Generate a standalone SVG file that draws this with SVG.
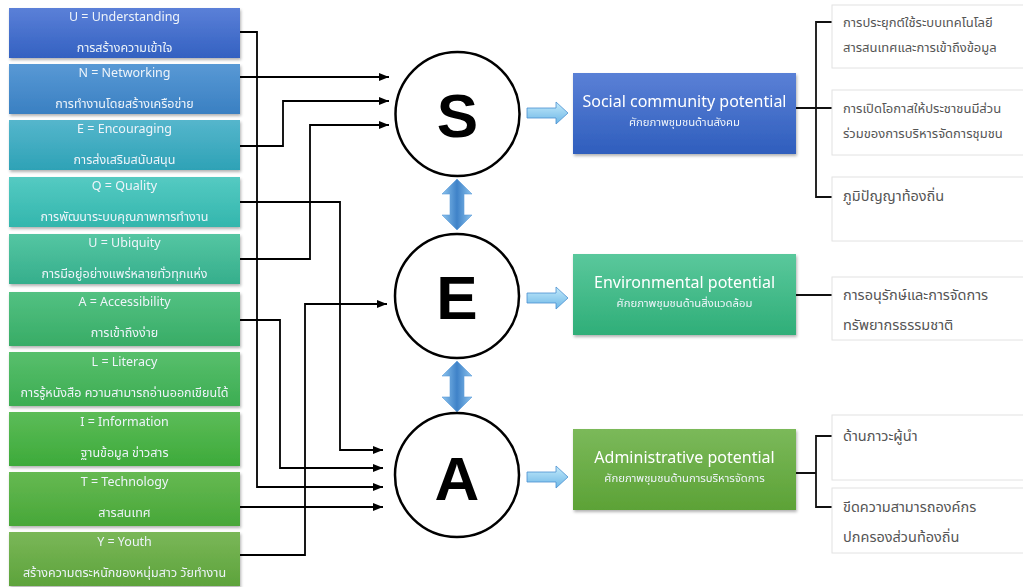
<svg xmlns="http://www.w3.org/2000/svg" width="1023" height="587" viewBox="0 0 1023 587">
<defs>
<style>
.lbl{font-family:"Noto Sans","Noto Sans Thai","Liberation Sans",sans-serif;font-size:12.5px;fill:#eef4fa;text-anchor:middle}
.big{font-family:"Liberation Sans","DejaVu Sans",sans-serif;font-weight:bold;font-size:62px;fill:#000;text-anchor:middle}
.ttl{font-family:"Noto Sans","Liberation Sans",sans-serif;font-size:16px;fill:#fff;text-anchor:middle}
.sub{font-family:"Noto Sans","Noto Sans Thai","Liberation Sans",sans-serif;font-size:11.3px;fill:#eef4fa;text-anchor:middle}
.rt{font-family:"Noto Sans","Noto Sans Thai","Liberation Sans",sans-serif;font-size:13px;fill:#555}
.rt2{font-family:"Noto Sans","Noto Sans Thai","Liberation Sans",sans-serif;font-size:14.5px;fill:#555}
.circ{fill:#fff;stroke:#000;stroke-width:2.5}
.con{fill:none;stroke:#000;stroke-width:1.8}
.tree{fill:none;stroke:#111;stroke-width:1.8}
.rbox{fill:#fff;stroke:#e2e2e2;stroke-width:1}
.barr{fill:url(#gH);stroke:#4a90d0;stroke-width:0.8}
.varr{fill:url(#gV);stroke:#5a9ad8;stroke-width:0.6}
</style>
<marker id="ah" markerUnits="userSpaceOnUse" markerWidth="10" markerHeight="8" refX="10" refY="4" orient="auto">
<path d="M0,0 L10,4 L0,8 Z" fill="#000"/>
</marker>
<filter id="sh" x="-5%" y="-10%" width="110%" height="130%">
<feDropShadow dx="1" dy="2" stdDeviation="1.5" flood-color="#000" flood-opacity="0.3"/>
</filter>
<linearGradient id="gH" x1="0" y1="0" x2="0" y2="1"><stop offset="0" stop-color="#c4ebfb"/><stop offset="1" stop-color="#6cb6e6"/></linearGradient>
<linearGradient id="gV" x1="0" y1="0" x2="1" y2="0"><stop offset="0" stop-color="#8cc4ee"/><stop offset="0.5" stop-color="#3f82c8"/><stop offset="1" stop-color="#8cc4ee"/></linearGradient>
<linearGradient id="g1" x1="0" y1="0" x2="0" y2="1"><stop offset="0" stop-color="#5b80d8"/><stop offset="1" stop-color="#3361c1"/></linearGradient>
<linearGradient id="g2" x1="0" y1="0" x2="0" y2="1"><stop offset="0" stop-color="#5899d5"/><stop offset="1" stop-color="#3a80c2"/></linearGradient>
<linearGradient id="g3" x1="0" y1="0" x2="0" y2="1"><stop offset="0" stop-color="#55b6cc"/><stop offset="1" stop-color="#2ea2b6"/></linearGradient>
<linearGradient id="g4" x1="0" y1="0" x2="0" y2="1"><stop offset="0" stop-color="#55cac2"/><stop offset="1" stop-color="#33b6ad"/></linearGradient>
<linearGradient id="g5" x1="0" y1="0" x2="0" y2="1"><stop offset="0" stop-color="#55c6a2"/><stop offset="1" stop-color="#35ae8c"/></linearGradient>
<linearGradient id="g6" x1="0" y1="0" x2="0" y2="1"><stop offset="0" stop-color="#53c182"/><stop offset="1" stop-color="#38ac66"/></linearGradient>
<linearGradient id="g7" x1="0" y1="0" x2="0" y2="1"><stop offset="0" stop-color="#58bf6c"/><stop offset="1" stop-color="#3cad52"/></linearGradient>
<linearGradient id="g8" x1="0" y1="0" x2="0" y2="1"><stop offset="0" stop-color="#5cbc58"/><stop offset="1" stop-color="#3daa3a"/></linearGradient>
<linearGradient id="g9" x1="0" y1="0" x2="0" y2="1"><stop offset="0" stop-color="#66b952"/><stop offset="1" stop-color="#47a738"/></linearGradient>
<linearGradient id="g10" x1="0" y1="0" x2="0" y2="1"><stop offset="0" stop-color="#7ab758"/><stop offset="1" stop-color="#5da33b"/></linearGradient>
<linearGradient id="gS" x1="0" y1="0" x2="0" y2="1"><stop offset="0" stop-color="#5a80d6"/><stop offset="1" stop-color="#2f5ebd"/></linearGradient>
<linearGradient id="gE" x1="0" y1="0" x2="0" y2="1"><stop offset="0" stop-color="#5ac89c"/><stop offset="1" stop-color="#2fae78"/></linearGradient>
<linearGradient id="gA" x1="0" y1="0" x2="0" y2="1"><stop offset="0" stop-color="#7bb95a"/><stop offset="1" stop-color="#5ca236"/></linearGradient>
</defs>

<g id="box-u1" filter="url(#sh)"><rect x="9" y="8" width="231" height="50" fill="url(#g1)"/><text class="lbl" x="124.5" y="21">U = Understanding</text><text class="lbl" x="124.5" y="52">การสร้างความเข้าใจ</text></g>
<g id="box-n" filter="url(#sh)"><rect x="9" y="64" width="231" height="50" fill="url(#g2)"/><text class="lbl" x="124.5" y="77">N = Networking</text><text class="lbl" x="124.5" y="108">การทำงานโดยสร้างเครือข่าย</text></g>
<g id="box-e" filter="url(#sh)"><rect x="9" y="120" width="231" height="50" fill="url(#g3)"/><text class="lbl" x="124.5" y="133">E = Encouraging</text><text class="lbl" x="124.5" y="164">การส่งเสริมสนับสนุน</text></g>
<g id="box-q" filter="url(#sh)"><rect x="9" y="177" width="231" height="50" fill="url(#g4)"/><text class="lbl" x="124.5" y="190">Q = Quality</text><text class="lbl" x="124.5" y="221">การพัฒนาระบบคุณภาพการทำงาน</text></g>
<g id="box-u2" filter="url(#sh)"><rect x="9" y="234" width="231" height="50" fill="url(#g5)"/><text class="lbl" x="124.5" y="247">U = Ubiquity</text><text class="lbl" x="124.5" y="278">การมีอยู่อย่างแพร่หลายทั่วทุกแห่ง</text></g>
<g id="box-a" filter="url(#sh)"><rect x="9" y="292" width="231" height="54" fill="url(#g6)"/><text class="lbl" x="124.5" y="306">A = Accessibility</text><text class="lbl" x="124.5" y="337">การเข้าถึงง่าย</text></g>
<g id="box-l" filter="url(#sh)"><rect x="9" y="352" width="231" height="54" fill="url(#g7)"/><text class="lbl" x="124.5" y="366">L = Literacy</text><text class="lbl" x="124.5" y="397">การรู้หนังสือ ความสามารถอ่านออกเขียนได้</text></g>
<g id="box-i" filter="url(#sh)"><rect x="9" y="412" width="231" height="54" fill="url(#g8)"/><text class="lbl" x="124.5" y="426">I = Information</text><text class="lbl" x="124.5" y="457">ฐานข้อมูล ข่าวสาร</text></g>
<g id="box-t" filter="url(#sh)"><rect x="9" y="472" width="231" height="54" fill="url(#g9)"/><text class="lbl" x="124.5" y="486">T = Technology</text><text class="lbl" x="124.5" y="517">สารสนเทศ</text></g>
<g id="box-y" filter="url(#sh)"><rect x="9" y="532" width="231" height="54" fill="url(#g10)"/><text class="lbl" x="124.5" y="546">Y = Youth</text><text class="lbl" x="124.5" y="577">สร้างความตระหนักของหนุ่มสาว วัยทำงาน</text></g>

<g id="connectors">
<path class="con" d="M240,32 H257 V487 H383" marker-end="url(#ah)"/>
<path class="con" d="M240,77 H389" marker-end="url(#ah)"/>
<path class="con" d="M240,146 H283 V101 H389" marker-end="url(#ah)"/>
<path class="con" d="M240,202 H340 V450 H383" marker-end="url(#ah)"/>
<path class="con" d="M240,259 H310 V125 H389" marker-end="url(#ah)"/>
<path class="con" d="M240,320 H280 V468 H383" marker-end="url(#ah)"/>
<path class="con" d="M240,507 H383" marker-end="url(#ah)"/>
<path class="con" d="M240,555 H305 V304 H387" marker-end="url(#ah)"/>
<path class="barr" d="M527,108 H556 V102 L568,113 L556,124 V118 H527 Z"/>
<path class="barr" d="M527,293 H556 V287 L568,298 L556,309 V303 H527 Z"/>
<path class="barr" d="M527,472 H556 V466 L568,477 L556,488 V482 H527 Z"/>
<path class="varr" d="M457,179 L472,194 H464 V215 H472 L457,230 L442,215 H450 V194 H442 Z"/>
<path class="varr" d="M457,361 L472,376 H464 V397 H472 L457,412 L442,397 H450 V376 H442 Z"/>
<path class="tree" d="M796,108 H816 M832,22 H816 V197 H832 M816,108 H832"/>
<path class="tree" d="M796,295 H832"/>
<path class="tree" d="M796,473 H816 M832,436 H816 V507 H832"/>
</g>

<g id="circle-s"><circle class="circ" cx="457.5" cy="114" r="62"/><text class="big" x="457.5" y="137">S</text></g>
<g id="circle-e"><circle class="circ" cx="457" cy="296" r="62"/><text class="big" x="457" y="319">E</text></g>
<g id="circle-a"><circle class="circ" cx="457" cy="475" r="62"/><text class="big" x="457" y="500">A</text></g>

<g id="social" filter="url(#sh)"><rect x="573" y="73" width="223" height="81" fill="url(#gS)"/><text class="ttl" x="684.5" y="107">Social community potential</text><text class="sub" x="684.5" y="126">ศักยภาพชุมชนด้านสังคม</text></g>
<g id="environmental" filter="url(#sh)"><rect x="573" y="254" width="223" height="81" fill="url(#gE)"/><text class="ttl" x="684.5" y="288">Environmental potential</text><text class="sub" x="684.5" y="307">ศักยภาพชุมชนด้านสิ่งแวดล้อม</text></g>
<g id="administrative" filter="url(#sh)"><rect x="573" y="429" width="223" height="81" fill="url(#gA)"/><text class="ttl" x="684.5" y="463">Administrative potential</text><text class="sub" x="684.5" y="482">ศักยภาพชุมชนด้านการบริหารจัดการ</text></g>

<g id="r-tech"><rect class="rbox" x="832" y="5" width="200" height="63"/><text class="rt" x="843" y="27">การประยุกต์ใช้ระบบเทคโนโลยี</text><text class="rt" x="843" y="52">สารสนเทศและการเข้าถึงข้อมูล</text></g>
<g id="r-part"><rect class="rbox" x="832" y="90" width="200" height="65"/><text class="rt" x="843" y="113">การเปิดโอกาสให้ประชาชนมีส่วน</text><text class="rt" x="843" y="138">ร่วมของการบริหารจัดการชุมชน</text></g>
<g id="r-wisdom"><rect class="rbox" x="832" y="177" width="200" height="64"/><text class="rt2" x="843" y="201">ภูมิปัญญาท้องถิ่น</text></g>
<g id="r-cons"><rect class="rbox" x="832" y="277" width="200" height="63"/><text class="rt2" x="843" y="300">การอนุรักษ์และการจัดการ</text><text class="rt2" x="843" y="330">ทรัพยากรธรรมชาติ</text></g>
<g id="r-lead"><rect class="rbox" x="832" y="415" width="200" height="65"/><text class="rt2" x="843" y="441">ด้านภาวะผู้นำ</text></g>
<g id="r-cap"><rect class="rbox" x="832" y="488" width="200" height="65"/><text class="rt2" x="843" y="512">ขีดความสามารถองค์กร</text><text class="rt2" x="843" y="542">ปกครองส่วนท้องถิ่น</text></g>
</svg>
